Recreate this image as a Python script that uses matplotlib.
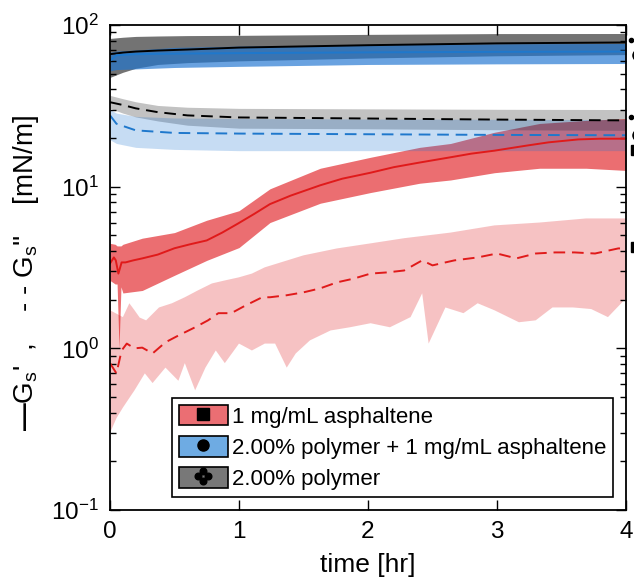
import numpy as np
import matplotlib
matplotlib.use("Agg")
import matplotlib.pyplot as plt
from matplotlib.patches import Patch
from matplotlib.lines import Line2D
from matplotlib.path import Path
from matplotlib.legend_handler import HandlerTuple

plt.rcParams['font.family'] = ['Liberation Sans', 'DejaVu Sans']
plt.rcParams['mathtext.fontset'] = 'custom'
plt.rcParams['mathtext.rm'] = 'Liberation Sans'
plt.rcParams['mathtext.it'] = 'Liberation Sans:italic'
plt.rcParams['mathtext.bf'] = 'Liberation Sans:bold'

# ---------------- data ----------------
# 1 mg/mL asphaltene, G' (solid) mean and band
asp_gp_t = [0.00, 0.03, 0.045, 0.065, 0.09, 0.12, 0.18, 0.25, 0.37, 0.50, 0.62, 0.75, 0.87, 0.99,
            1.12, 1.24, 1.40, 1.63, 1.80, 2.02, 2.20, 2.40, 2.64, 2.80, 2.98, 3.24, 3.40, 3.63, 3.80, 4.00]
asp_gp = [3.35, 3.65, 3.5, 2.9, 3.4, 3.4, 3.5, 3.6, 3.8, 4.16, 4.4, 4.65, 5.2, 5.9,
          6.8, 7.8, 8.8, 10.2, 11.2, 12.2, 13.2, 14.1, 15.2, 16.0, 16.7, 18.0, 18.8, 19.6, 19.8, 19.8]
asp_gp_band_t = [0.00, 0.04, 0.055, 0.07, 0.085, 0.10, 0.25, 0.50, 0.75, 1.00, 1.24, 1.63, 2.02, 2.40,
                 2.64, 2.98, 3.33, 3.69, 4.00]
asp_gp_hi = [4.46, 4.4, 4.3, 4.3, 4.3, 4.4, 4.8, 5.2, 6.2, 7.1, 9.7, 13.0, 15.2, 17.5,
             18.5, 21.7, 24.6, 25.7, 26.4]
asp_gp_lo = [2.63, 2.5, 2.5, 1.0, 2.4, 2.2, 2.28, 2.83, 3.5, 4.2, 6.0, 7.9, 9.2, 10.5,
             11.0, 12.2, 13.0, 13.0, 12.6]

# 1 mg/mL asphaltene, G'' (dashed) mean and band
asp_gpp_t = [0.00, 0.05, 0.09, 0.13, 0.19, 0.25, 0.33, 0.43, 0.53, 0.66, 0.76, 0.84, 0.94, 1.05, 1.18,
             1.24, 1.37, 1.50, 1.63, 1.76, 1.89, 2.02, 2.15, 2.28, 2.42, 2.50, 2.60, 2.67, 2.85, 3.00,
             3.15, 3.30, 3.45, 3.60, 3.76, 3.94, 4.00]
asp_gpp = [0.81, 0.70, 0.97, 1.07, 1.0, 1.01, 0.93, 1.09, 1.2, 1.35, 1.49, 1.65, 1.65, 1.84, 2.07,
           2.07, 2.13, 2.22, 2.35, 2.56, 2.7, 2.9, 2.95, 3.03, 3.5, 3.26, 3.4, 3.5, 3.65, 3.86,
           3.6, 3.86, 3.92, 3.92, 3.86, 4.15, 4.15]
asp_gpp_hi_t = [0.00, 0.10, 0.15, 0.19, 0.23, 0.28, 0.38, 0.48, 0.58, 0.68, 0.79, 0.89, 1.00, 1.10,
                1.20, 1.50, 1.76, 2.02, 2.28, 2.64, 2.98, 3.33, 3.69, 4.00]
asp_gpp_hi = [1.72, 1.56, 1.9, 1.72, 1.55, 1.49, 1.79, 1.9, 2.07, 2.28, 2.52, 2.63, 2.75, 2.9,
              3.17, 3.76, 4.15, 4.46, 4.8, 5.2, 5.76, 6.0, 6.36, 6.36]
asp_gpp_lo_t = [0.00, 0.05, 0.10, 0.19, 0.27, 0.33, 0.43, 0.53, 0.58, 0.66, 0.74, 0.82, 0.89, 1.00,
                1.10, 1.20, 1.28, 1.37, 1.44, 1.55, 1.71, 1.86, 2.02, 2.17, 2.33, 2.42, 2.47, 2.60,
                2.74, 2.85, 2.98, 3.17, 3.30, 3.43, 3.59, 3.73, 3.86, 4.00]
asp_gpp_lo = [0.30, 0.37, 0.43, 0.55, 0.70, 0.61, 0.76, 0.63, 0.81, 0.55, 0.76, 0.97, 0.81, 1.07,
              0.97, 1.07, 1.07, 0.76, 0.93, 1.12, 1.29, 1.35, 1.43, 1.35, 1.56, 2.19, 1.07, 1.79,
              1.65, 1.9, 1.72, 1.45, 1.49, 1.79, 1.79, 1.75, 1.56, 2.04]

# 2.00% polymer, G' and G''
pol_t = [0.00, 0.10, 0.20, 0.37, 0.60, 1.00, 2.00, 3.00, 4.00]
pol_gp = [66.0, 67.5, 68.5, 69.5, 70.5, 72.5, 75.0, 77.0, 78.0]
pol_gp_hi = [82.6, 84.0, 85.0, 85.5, 86.0, 86.3, 87.5, 88.5, 88.6]
pol_gp_lo = [47.4, 51.0, 54.0, 57.0, 58.5, 60.0, 62.5, 64.5, 65.6]
pol_gpp = [33.3, 32.0, 30.5, 28.9, 27.6, 26.8, 26.4, 26.0, 25.7]
pol_gpp_hi = [36.7, 35.0, 33.5, 31.8, 31.0, 30.5, 30.3, 30.1, 30.0]
pol_gpp_lo = [30.5, 28.5, 27.0, 25.5, 24.0, 23.0, 22.8, 22.5, 22.3]

# 2.00% polymer + 1 mg/mL asphaltene, G' and G''
mix_t = [0.00, 0.05, 0.20, 0.50, 1.00, 2.00, 3.00, 4.00]
mix_gp = [60.0, 65.0, 66.0, 66.5, 67.0, 67.7, 68.2, 68.5]
mix_gp_hi = [67.7, 69.0, 70.0, 72.7, 74.0, 75.5, 76.5, 76.9]
mix_gp_lo = [52.0, 53.0, 53.5, 54.6, 55.5, 57.0, 57.5, 57.8]
mix_gpp = [27.6, 24.5, 22.3, 21.5, 21.3, 21.1, 20.9, 20.8]
mix_gpp_hi = [30.0, 28.5, 27.2, 26.6, 26.4, 26.2, 26.1, 26.0]
mix_gpp_lo = [19.5, 18.5, 17.5, 17.0, 16.7, 16.7, 16.7, 16.7]

legend_labels = ["1 mg/mL asphaltene", "2.00% polymer + 1 mg/mL asphaltene", "2.00% polymer"]
x_ticks = [0, 1, 2, 3, 4]

# ---------------- styling ----------------
RED = (0.87, 0.05, 0.07)
BLUE = (0.12, 0.46, 0.82)
BLACK = (0.0, 0.0, 0.0)
LINE_RED = (0.88, 0.1, 0.1)
LINE_BLUE = (0.12, 0.47, 0.80)

fig = plt.figure(figsize=(6.34, 5.77), dpi=100)
ax = fig.add_axes([110/634, 67/577, 516/634, 485/577])

# bands
ax.fill_between(asp_gp_band_t, asp_gp_lo, asp_gp_hi, color=RED, alpha=0.6, lw=0)
ax.fill(list(asp_gpp_hi_t) + list(asp_gpp_lo_t[::-1]),
        list(asp_gpp_hi) + list(asp_gpp_lo[::-1]), color=RED, alpha=0.25, lw=0)
ax.fill_between(pol_t, pol_gp_lo, pol_gp_hi, color=BLACK, alpha=0.55, lw=0)
ax.fill_between(pol_t, pol_gpp_lo, pol_gpp_hi, color=BLACK, alpha=0.24, lw=0)
ax.fill_between(mix_t, mix_gp_lo, mix_gp_hi, color=BLUE, alpha=0.67, lw=0)
ax.fill_between(mix_t, mix_gpp_lo, mix_gpp_hi, color=BLUE, alpha=0.25, lw=0)

# lines
dash = (6, 3.5)
ax.plot(asp_gp_t, asp_gp, color=LINE_RED, lw=1.4)
ax.plot(asp_gpp_t, asp_gpp, color=LINE_RED, lw=1.4, dashes=dash)
ax.plot(pol_t, pol_gp, color='black', lw=1.4)
ax.plot(pol_t, pol_gpp, color='black', lw=1.4, dashes=dash)
ax.plot(mix_t, mix_gp, color=LINE_BLUE, lw=1.4)
ax.plot(mix_t, mix_gpp, color=LINE_BLUE, lw=1.4, dashes=dash)

ax.set_yscale('log')
ax.set_xlim(0, 4)
ax.set_ylim(0.1, 100)
ax.set_xticks(x_ticks)
ax.set_xticklabels([str(v) for v in x_ticks])
ax.tick_params(which='both', direction='in', top=True, right=True, labelsize=17.5, width=1.0)
ax.tick_params(which='major', length=7, pad=8)
ax.tick_params(which='minor', length=4)
for s in ax.spines.values():
    s.set_linewidth(1.3)

ax.set_xlabel("time [hr]", fontsize=19, labelpad=7)
ax.set_ylabel(r"$\mathbf{—}$G$_\mathrm{s}$'  ,    - - G$_\mathrm{s}$''    [mN/m]", fontsize=20)
ax.yaxis.set_label_coords(-0.133, 0.49)

# legend
circ = Path.unit_circle()
def _sh(p, dx, dy, s):
    return Path(p.vertices * s + np.array([dx, dy]), p.codes)
clover = Path.make_compound_path(*[_sh(circ, dx, dy, 0.36) for dx, dy in
                                    [(0, 0.55), (0, -0.55), (0.55, 0), (-0.55, 0)]])
patch_cols = [(0.92, 0.43, 0.45), (0.43, 0.67, 0.89), (0.47, 0.47, 0.47)]
markers = ['s', 'o', clover]
handles = []
for c, m in zip(patch_cols, markers):
    p = Patch(facecolor=c, edgecolor='black', lw=1.2)
    mk = Line2D([], [], ls='none', marker=m, color='black',
                markersize=8 if m is not clover else 12)
    handles.append((p, mk))
leg = ax.legend(handles, legend_labels, handler_map={tuple: HandlerTuple(ndivide=1, pad=0)},
                loc='lower right', bbox_to_anchor=(0.975, 0.027), fontsize=16,
                handlelength=2.2, handleheight=1.05, handletextpad=0.2, labelspacing=0.38,
                borderpad=0.3, borderaxespad=0, fancybox=False, framealpha=1, edgecolor='black')
leg.get_frame().set_linewidth(1.2)

# partially visible marks of the neighbouring panel at the right edge
for (px, py, m, ms) in [(631, 40, 'o', 3), (638, 55, 'o', 8), (631, 117, 'o', 3),
                        (638, 135, 'o', 8), (636, 150, 's', 7), (636, 247, 's', 7)]:
    fig.add_artist(Line2D([px / 634], [1 - py / 577], transform=fig.transFigure,
                          marker=m, markersize=ms, color='black', ls='none'))

fig.savefig("out.png", dpi=100)
